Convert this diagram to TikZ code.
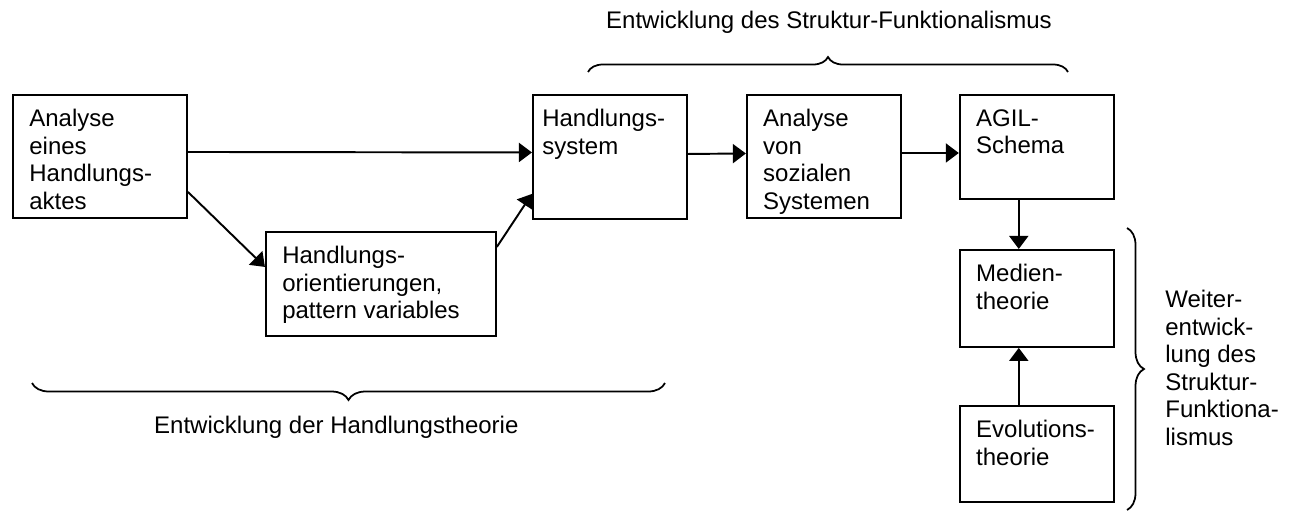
\documentclass[tikz,border=0pt]{standalone}
\usepackage{fontspec}
\setmainfont{Liberation Sans}
\usepackage{tikz}
\usepackage{xcolor}
\usetikzlibrary{arrows.meta, calc, positioning, decorations.pathreplacing}
\tikzset{
  % flow arrow style
  farr/.style={
    line width = 1.1pt
    , -{Triangle[length=0.26cm, width=0.38cm]}
  },
  % brace style
  curly/.style={
    decorate
    , decoration={brace, amplitude=#1}
    , line width=1pt
  },
}
\tikzset{
  % stage box style
  stage/.style={
    draw
    , line width=1.1pt
    , inner sep=0pt
    , minimum width=3.08cm
    , anchor=north west
  },
  % text in the upper left corner of a stage
  stagetext/.style={
    anchor=north west
    , align=left
    , inner sep=0pt
    , xshift=0.34cm
    , yshift=-0.3cm
  },
}

\begin{document}
\begin{tikzpicture}[font=\fontsize{13.66}{15.65}\selectfont]
  \useasboundingbox (0,0) rectangle (25.9,-10.24);

  \node[stage, minimum width=3.48cm, minimum height=2.46cm,
    label={[stagetext]north west:Analyse\\eines\\Handlungs-\\aktes}] (akt) at (0.24,-1.88) {};
  \node[stage, below right=0.24cm and 1.54cm of akt.south east, minimum width=4.6cm, minimum height=2.08cm,
    label={[stagetext]north west:Handlungs-\\orientierungen,\\pattern variables}] (orient) {};
  \node[stage, right=6.88cm of akt.north east, anchor=north west, minimum height=2.48cm,
    label={[stagetext, xshift=-0.14cm]north west:Handlungs-\\system}] (sys) {};
  \node[stage, right=1.16cm of sys.north east, anchor=north west, minimum height=2.46cm,
    label={[stagetext]north west:Analyse\\von\\sozialen\\Systemen}] (soz) {};
  \node[stage, right=1.14cm of soz.north east, anchor=north west, minimum height=2.08cm,
    label={[stagetext]north west:AGIL-\\Schema}] (agil) {};
  \node[stage, below=0.98cm of agil.south west, anchor=north west, minimum height=1.94cm,
    label={[stagetext]north west:Medien-\\theorie}] (med) {};
  \node[stage, below=1.14cm of med.south west, anchor=north west, minimum height=1.92cm,
    label={[stagetext]north west:Evolutions-\\theorie}] (evo) {};

  \draw[farr] ([yshift=0.09cm]akt.east) -- ([yshift=0.09cm]sys.west);
  \draw[farr] ([yshift=0.54cm]akt.south east) -- ([yshift=-0.72cm]orient.north west);
  \draw[farr] ([yshift=-0.32cm]orient.north east) -- ([yshift=0.52cm]sys.south west);
  \draw[farr] ([yshift=0.06cm]sys.east) -- ([yshift=0.06cm]soz.west);
  \draw[farr] ([yshift=0.07cm]soz.east) -- ([yshift=-0.12cm]agil.west);

  \draw[farr] ([xshift=-0.36cm]agil.south) -- ([xshift=-0.36cm]med.north);
  \draw[farr] ([xshift=-0.36cm]evo.north) -- ([xshift=-0.36cm]med.south);

  % braces
  \coordinate (sfl) at (11.76,-1.44);
  \coordinate (sfr) at (21.36,-1.44);
  \coordinate (htl) at (0.64,-7.66);
  \coordinate (htr) at (13.3,-7.66);
  \coordinate (wet) at (22.54,-4.56);
  \coordinate (web) at (22.54,-10.2);
  \draw[curly=0.3cm] (sfl) -- (sfr);
  \draw[curly=0.34cm] (htr) -- (htl);
  \draw[curly=0.34cm] (wet) -- (web);

  \node[anchor=base] (sftitle) at (16.58,-0.56) {Entwicklung des Struktur-Funktionalismus};
  \node[anchor=base west] (httitle) at (2.96,-8.66) {Entwicklung der Handlungstheorie};
  \node[anchor=north west, align=left, inner sep=0pt] (wetitle) at (23.3,-5.8)
    {Weiter-\\entwick-\\lung des\\Struktur-\\Funktiona-\\lismus};
\end{tikzpicture}
\end{document}
